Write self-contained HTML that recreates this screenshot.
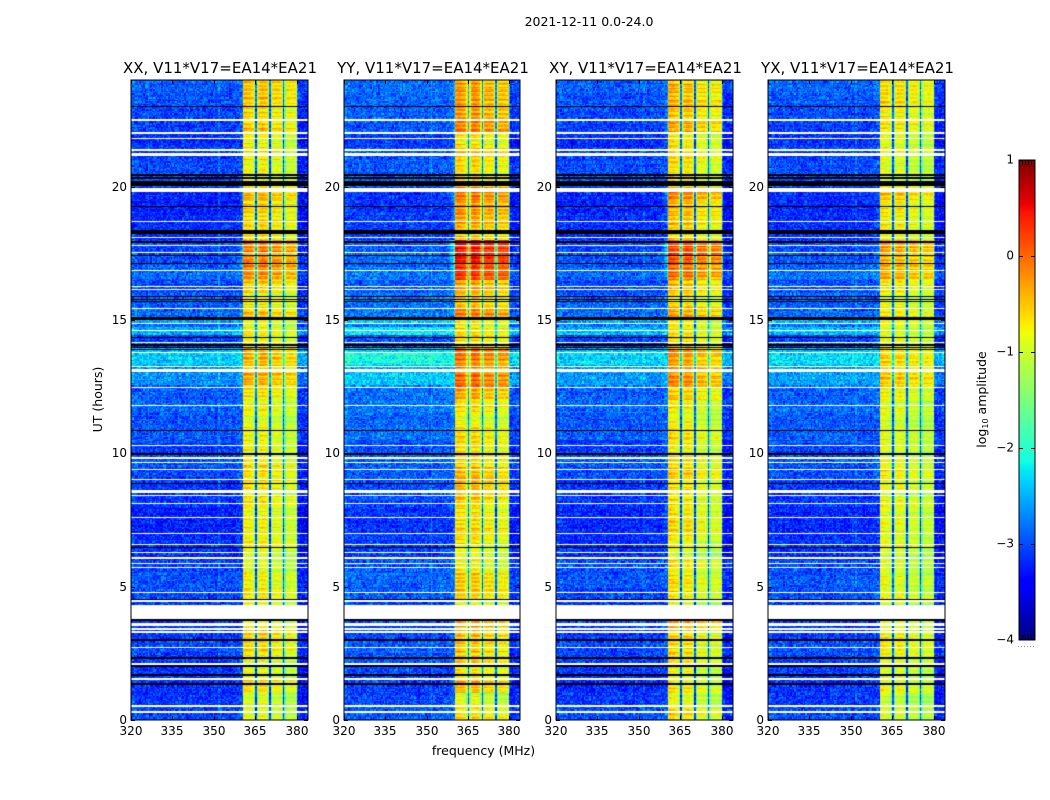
<!DOCTYPE html>
<html lang="en">
<head>
<meta charset="utf-8">
<title>2021-12-11 0.0-24.0</title>
<style>
html,body{margin:0;padding:0;background:#fff;}
#figure{position:relative;width:1050px;height:800px;overflow:hidden;background:#fff;font-family:"DejaVu Sans","Liberation Sans",sans-serif;}
canvas{position:absolute;display:block;}
svg{position:absolute;left:0;top:0;}
text{font-family:"DejaVu Sans","Liberation Sans",sans-serif;fill:#000;}
</style>
</head>
<body>
<div id="figure">
  <canvas id="hm0" width="177" height="640" style="left:131px;top:80px"></canvas>
  <canvas id="hm1" width="176" height="640" style="left:344px;top:80px"></canvas>
  <canvas id="hm2" width="177" height="640" style="left:556px;top:80px"></canvas>
  <canvas id="hm3" width="177" height="640" style="left:768px;top:80px"></canvas>
  <canvas id="cbar" width="16" height="480" style="left:1019px;top:160px"></canvas>
  <svg id="overlay" width="1050" height="800" viewBox="0 0 1050 800">
    <text x="589" y="26" font-size="12.5" text-anchor="middle">2021-12-11 0.0-24.0</text>
    <text x="220" y="73" font-size="15" text-anchor="middle">XX, V11*V17=EA14*EA21</text>
    <text x="433" y="73" font-size="15" text-anchor="middle">YY, V11*V17=EA14*EA21</text>
    <text x="645.5" y="73" font-size="15" text-anchor="middle">XY, V11*V17=EA14*EA21</text>
    <text x="857.5" y="73" font-size="15" text-anchor="middle">YX, V11*V17=EA14*EA21</text>
    <text x="483.5" y="755" font-size="12.5" text-anchor="middle">frequency (MHz)</text>
    <text transform="translate(102 399.5) rotate(-90)" font-size="12.5" text-anchor="middle">UT (hours)</text>
    <text transform="translate(986 399.5) rotate(-90)" font-size="12.5" text-anchor="middle">log<tspan font-size="8" dy="2">10</tspan><tspan dy="-2"> amplitude</tspan></text>
  </svg>
</div>
<script>
// ---- tick labels ----
const freqTicks = [320, 335, 350, 365, 380];
const hourTicks = [0, 5, 10, 15, 20];
const colorTicks = [1, 0, -1, -2, -3, -4];

// ---- per-half-hour levels (hour 0 upward, log10 amplitude) ----
const backgroundByHalfHour = [
 -3.05,-3.15,-3.2,-3.15,-3.1,-3.05,-3.15,-3.15,-3.15,-3.05,-3.0,-3.05,
 -3.2,-3.2,-3.25,-3.25,-3.15,-3.15,-3.05,-3.0,-3.1,-2.95,-3.0,-2.9,
 -2.95,-2.85,-2.65,-2.45,-3.1,-2.85,-2.9,-2.95,-3.05,-2.9,-3.0,-3.05,
 -3.2,-3.2,-3.25,-3.25,-3.0,-3.05,-3.1,-3.2,-3.1,-3.05,-3.0,-2.95];
const bandByHalfHour = [
 0.05,-0.1,0.15,0,0.1,0.15,0.2,0.25,-0.05,0.1,0.1,0,
 -0.1,0.05,0.1,0.05,0.1,0.15,0.2,0.1,0.05,0.08,-0.05,0.05,
 0.2,0.45,0.35,0.45,0.1,0.05,0.35,0.1,0.25,0.6,0.7,0.75,
 0.15,0.25,0.3,0.45,0.1,0.05,0.15,0.05,0.35,0.25,0.3,0.3];

// ---- short bright background bursts: start hour, end hour, level ----
const backgroundBursts = [[13.3,13.75,-2.4],[14.45,14.75,-2.55],[14.85,15.0,-2.65],[12.55,13.05,-2.7]];

// ---- spectral shape, one value per 0.5 MHz channel from 320 MHz ----
const channelBackground = [
 0.08,0.08,0.05,0.05,0,0,0,0,0,0,0,0,0,0,0,0,0,0,0,0,
 0,0,0,0,0,0,0,0,0,0,0,0,0,0,0,0,0,0,0,0,
 0,0,0,0,0,0,0,0,0,0,0,0,0,0,0,0,0,0,0,0,
 0,0,0,0.2,0,0,0,0,0,0,0,0,0,0,0,0,0.05,0.05,0.1,0.1,
 0,0,0,0,0,0,0,0,0,0,0,0,0,0,0,0,0,0,0,0,
 0,0,0,0,0,0,0,0,0,0,0,0,0,0,0,0,0,0,0,0,
 -0.15,-0.2,-0.2,-0.2,-0.2,-0.2,-0.15,-0.15];
const channelBand = [
 -4,-4,-4,-4,-4,-4,-4,-4,-4,-4,-4,-4,-4,-4,-4,-4,-4,-4,-4,-4,
 -4,-4,-4,-4,-4,-4,-4,-4,-4,-4,-4,-4,-4,-4,-4,-4,-4,-4,-4,-4,
 -4,-4,-4,-4,-4,-4,-4,-4,-4,-4,-4,-4,-4,-4,-4,-4,-4,-4,-4,-4,
 -4,-4,-4,-4,-4,-4,-4,-4,-4,-4,-4,-4,-4,-3.8,-3.6,-3.4,-3.2,-3,-2.8,-2.6,
 -2.2,0.05,0.1,0.08,0.05,0.03,0,-0.05,-0.12,-0.5,
 -2.3,-0.6,-0.05,0.05,0.1,0.08,0.05,0,-0.08,-0.5,
 -2.3,-0.6,0,0.03,0.03,0.03,0.02,0,-0.05,-0.5,
 -2.3,-0.6,0,0.03,0.03,0.03,0,0,0,-0.1,
 -2,-4,-4,-4,-4,-4,-4,-4];

// ---- panel levels: four band segments, band swing, background offset ----
const segmentsXX = [-0.9,-0.88,-1.0,-1.1];
const segmentsYY = [-0.77,-0.77,-0.9,-0.98];
const segmentsXY = [-0.8,-0.85,-1.03,-1.1];
const segmentsYX = [-0.98,-1.0,-1.1,-1.16];
const bandSwing = [1, 1.6, 1.25, 0.85];
const backgroundOffset = [0, 0.1, 0.02, 0.03];

// ---- hand-listed texture values ----
const speckleA = [0.3,-0.8,0.6,-0.2,0.9,-0.5,0.1,-0.9,0.4,0.7,-0.3,-0.6,0.2,1,-0.7,0.5,-0.1,-0.4,0.8,-1,0.3,0.6,-0.5,0,-0.8,0.9,-0.2,0.4,-0.6,0.7,-0.3];
const speckleB = [-0.4,0.5,0.9,-0.7,0.1,-0.2,0.7,-0.9,0.3,0.6,-0.5,1,-0.1,-0.8,0.4,-0.3,0.8,0.2,-0.6,0.5,-1,0.6,0,-0.4,0.9,-0.7,0.3,-0.2,0.7,-0.5,0.1,0.4,-0.9,0.8,-0.3,0.2,-0.6];
const rowStripes = [0.2,-0.5,0.7,0.1,-0.8,0.4,1,-0.3,-0.6,0.5,0,-0.9,0.8,0.3,-0.2,0.6,-0.7,0.1,0.9,-0.4,-1,0.5,0.2];

// ---- flagged time stripes: centre hour, thickness in hours ----
const whiteStripes = [
 [22.51,.07],[22.0,.07],[21.8,.05],[21.38,.08],[21.21,.09],[19.86,.15],[18.69,.05],[18.09,.05],[17.79,.05],[17.53,.05],
 [16.85,.05],[16.25,.05],[16.14,.05],[15.43,.05],[14.87,.05],[14.61,.05],[14.16,.05],[13.78,.05],[13.26,.05],[13.12,.12],
 [12.47,.05],[11.8,.05],[10.3,.05],[9.815,.08],[9.66,.05],[9.4,.05],[9.03,.05],[8.555,.11],[8.43,.05],[8.13,.05],
 [7.6,.05],[7.0,.05],[6.59,.05],[6.29,.05],[6.065,.08],[5.88,.05],[5.73,.05],[4.79,.05],[4.46,.05],[4.045,.53],
 [3.63,.05],[3.56,.05],[3.41,.05],[3.295,.08],[2.73,.05],[2.1,.05],[1.54,.05],[.52,.05],[.3,.05]];
const blackStripes = [
 [23.0,.05],[20.45,.08],[20.32,.05],[20.13,.19],[19.26,.05],[18.3,.12],[17.92,.05],[17.42,.05],[17.12,.05],[15.88,.05],
 [15.77,.05],[15.69,.05],[15.055,.08],[14.34,.05],[14.06,.05],[13.97,.05],[13.9,.05],[10.86,.05],[9.96,.07],[8.88,.05],
 [6.48,.05],[4.53,.05],[3.75,.05],[3.0,.05],[2.32,.05],[2.02,.05],[1.69,.05],[1.35,.05]];

const panelSegments = [segmentsXX, segmentsYY, segmentsXY, segmentsYX];
const panelLefts = [131, 344, 556, 768];
const panelWidths = [177, 176, 177, 177];
const AXIS_TOP = 80, AXIS_BOTTOM = 720;
const FREQ_MIN = 320, FREQ_MAX = 384, HOUR_MAX = 24;
const CHANNEL_MHZ = 0.5, ROW_HOURS = 0.05;
const V_MIN = -4, V_MAX = 1;

function xScale(freq, w) { return (freq - FREQ_MIN) / (FREQ_MAX - FREQ_MIN) * w; }
function yScale(hour) { return (AXIS_BOTTOM - AXIS_TOP) * (1 - hour / HOUR_MAX); }
function ramp(t, a, b) { return Math.min(1, Math.max(0, (t - a) / (b - a))); }
function jet(v) {
  const t = Math.min(1, Math.max(0, (v - V_MIN) / (V_MAX - V_MIN)));
  let r = t < 0.89 ? ramp(t, 0.35, 0.66) : 1 - 0.5 * ramp(t, 0.89, 1);
  let g = t < 0.5 ? ramp(t, 0.125, 0.375) : 1 - ramp(t, 0.64, 0.91);
  let b = t < 0.2 ? 0.5 + 0.5 * ramp(t, 0, 0.11) : 1 - ramp(t, 0.34, 0.65);
  return 'rgb(' + Math.round(r * 255) + ',' + Math.round(g * 255) + ',' + Math.round(b * 255) + ')';
}
function cellValue(p, r, c) {
  const hour = (r + 0.5) * ROW_HOURS;
  const bin = Math.min(bandByHalfHour.length - 1, Math.floor(hour / 0.5));
  let bg = backgroundByHalfHour[bin];
  for (const burst of backgroundBursts) {
    if (hour >= burst[0] && hour < burst[1]) bg = burst[2] + backgroundOffset[p] * 2;
  }
  const nA = speckleA[(c * 7 + r * r * 3 + ((c * c) >> 2) * (r % 13) + p * 7) % speckleA.length];
  const nB = speckleB[(c * 11 + r * 17 + ((r * c) >> 3) + p) % speckleB.length];
  const stripe = rowStripes[(r + p) % rowStripes.length];
  const seg = panelSegments[p][Math.max(0, Math.min(3, Math.floor((c - 80) / 10)))];
  const low = bg + backgroundOffset[p] + channelBackground[c] + (nA + nB) * 0.27 + stripe * 0.07;
  const high = seg + bandSwing[p] * bandByHalfHour[bin] + channelBand[c] + (nA + nB) * 0.1 + stripe * 0.3;
  return Math.max(low, high);
}

// ---- heat maps ----
const nChannels = channelBand.length;
const nRows = Math.round(HOUR_MAX / ROW_HOURS);
panelLefts.forEach(function (left, p) {
  const w = panelWidths[p];
  const ctx = document.getElementById('hm' + p).getContext('2d');
  ctx.fillStyle = '#fff';
  ctx.fillRect(0, 0, w, 640);
  for (let r = 0; r < nRows; r++) {
    const y1 = Math.round(yScale(r * ROW_HOURS));
    const y0 = Math.round(yScale((r + 1) * ROW_HOURS));
    for (let c = 0; c < nChannels; c++) {
      const x0 = Math.round(xScale(FREQ_MIN + c * CHANNEL_MHZ, w));
      const x1 = Math.round(xScale(FREQ_MIN + (c + 1) * CHANNEL_MHZ, w));
      ctx.fillStyle = jet(cellValue(p, r, c));
      ctx.fillRect(x0, y0, x1 - x0, y1 - y0);
    }
  }
  ctx.fillStyle = '#fff';
  whiteStripes.forEach(function (s) {
    const a = Math.round(yScale(s[0] + s[1] / 2));
    const b = yScale(s[0] - s[1] / 2);
    ctx.fillRect(0, a, w, Math.max(1, Math.round(b - a)));
  });
  ctx.fillStyle = '#000';
  blackStripes.forEach(function (s) {
    const a = Math.round(yScale(s[0] + s[1] / 2));
    const b = yScale(s[0] - s[1] / 2);
    ctx.fillRect(0, a, w, Math.max(1, Math.round(b - a)));
  });
});

// ---- axes ----
const SVG_NS = 'http://www.w3.org/2000/svg';
const overlay = document.getElementById('overlay');
function makeLine(x1, y1, x2, y2, color) {
  const el = document.createElementNS(SVG_NS, 'line');
  el.setAttribute('x1', x1);
  el.setAttribute('y1', y1);
  el.setAttribute('x2', x2);
  el.setAttribute('y2', y2);
  el.setAttribute('stroke', color);
  el.setAttribute('stroke-width', '1');
  overlay.appendChild(el);
  return el;
}
function makeLabel(x, y, str, anchor) {
  const el = document.createElementNS(SVG_NS, 'text');
  el.setAttribute('x', x);
  el.setAttribute('y', y);
  el.setAttribute('font-size', '12');
  el.setAttribute('text-anchor', anchor);
  el.textContent = str;
  overlay.appendChild(el);
  return el;
}
panelLefts.forEach(function (left, p) {
  const w = panelWidths[p];
  const frame = document.createElementNS(SVG_NS, 'rect');
  frame.setAttribute('x', left);
  frame.setAttribute('y', AXIS_TOP);
  frame.setAttribute('width', w);
  frame.setAttribute('height', AXIS_BOTTOM - AXIS_TOP);
  frame.setAttribute('fill', 'none');
  frame.setAttribute('stroke', '#000');
  frame.setAttribute('stroke-width', '1');
  
  
  overlay.appendChild(frame);
  freqTicks.forEach(function (f) {
    const x = left + Math.round(xScale(f, w)) + 0.5;
    const top = makeLine(x, AXIS_TOP, x, AXIS_TOP + 4, '#000');
    
    
    const bottom = makeLine(x, AXIS_BOTTOM - 4, x, AXIS_BOTTOM, '#000');
    
    
    const label = makeLabel(x - 0.5, 735, String(f), 'middle');
    
    
  });
  hourTicks.forEach(function (h) {
    const y = AXIS_TOP + Math.round(yScale(h)) + 0.5;
    const lt = makeLine(left, y, left + 4, y, '#000');
    
    
    const rt = makeLine(left + w - 4, y, left + w, y, '#000');
    
    
    const label = makeLabel(left - 4, y + 3.5, String(h), 'end');
    
    
  });
});

// ---- colour bar ----
const CB_LEFT = 1019, CB_TOP = 160, CB_W = 16, CB_H = 480;
function cbY(v) { return CB_H * (V_MAX - v) / (V_MAX - V_MIN); }
const cbCtx = document.getElementById('cbar').getContext('2d');
for (let y = 0; y < CB_H; y++) {
  cbCtx.fillStyle = jet(V_MAX - (y + 0.5) / CB_H * (V_MAX - V_MIN));
  cbCtx.fillRect(0, y, CB_W, 1);
}
const cbFrame = document.createElementNS(SVG_NS, 'rect');
cbFrame.setAttribute('x', CB_LEFT);
cbFrame.setAttribute('y', CB_TOP);
cbFrame.setAttribute('width', CB_W);
cbFrame.setAttribute('height', CB_H);
cbFrame.setAttribute('fill', 'none');
cbFrame.setAttribute('stroke', '#000');
cbFrame.setAttribute('stroke-width', '1');


overlay.appendChild(cbFrame);
colorTicks.forEach(function (v) {
  const y = CB_TOP + Math.round(cbY(v)) + (v === V_MAX ? 0.5 : v === V_MIN ? -0.5 : 0.5);
  const a = makeLine(CB_LEFT, y, CB_LEFT + 4, y, '#000');
  
  
  const b = makeLine(CB_LEFT + CB_W - 4, y, CB_LEFT + CB_W, y, '#000');
  
  
  const label = makeLabel(CB_LEFT - 5, CB_TOP + Math.round(cbY(v)) + 3.5, (v < 0 ? '\u2212' : '') + Math.abs(v), 'end');
  
  
});
[3, 6, 9, 12].forEach(function (dx) {
  const t = makeLine(CB_LEFT + dx + 0.5, CB_TOP, CB_LEFT + dx + 0.5, CB_TOP + 5, '#000');
  
  
  const u = makeLine(CB_LEFT + dx + 0.5, CB_TOP + CB_H - 5, CB_LEFT + dx + 0.5, CB_TOP + CB_H, '#000');
  
  
});
[-1, 2, 5, 8, 11, 14].forEach(function (dx) {
  const dot = document.createElementNS(SVG_NS, 'rect');
  dot.setAttribute('x', CB_LEFT + dx);
  dot.setAttribute('y', 646);
  dot.setAttribute('width', '1');
  dot.setAttribute('height', '1');
  dot.setAttribute('fill', '#888');
  
  
  overlay.appendChild(dot);
});
</script>
</body>
</html>
